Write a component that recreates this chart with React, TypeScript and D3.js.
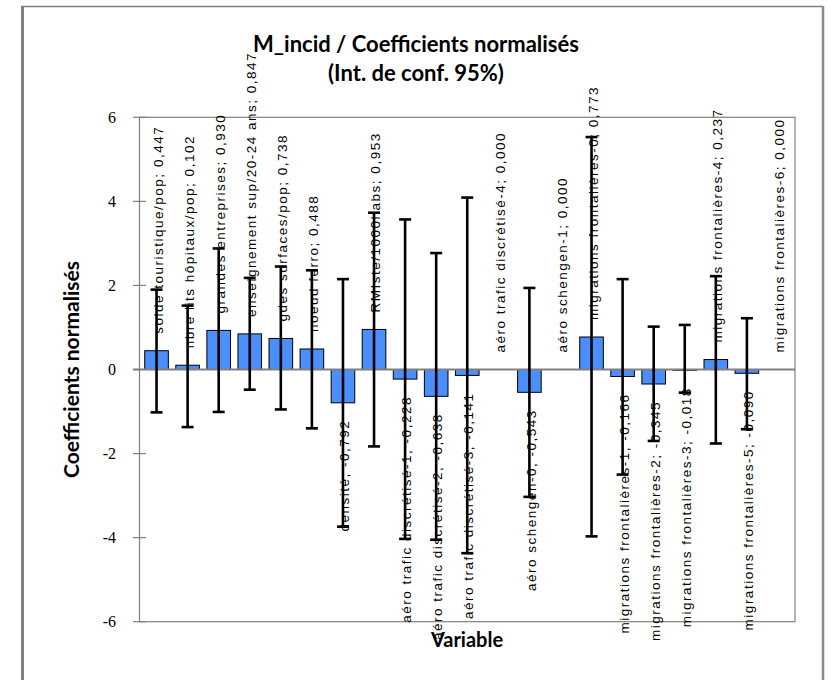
import React from "react";
import * as d3 from "d3";

const categories = [
  "solde touristique/pop",
  "nbre lits hôpitaux/pop",
  "grandes entreprises",
  "enseignement sup/20-24 ans",
  "gdes surfaces/pop",
  "noeud ferro",
  "densité",
  "RMIste/1000habs",
  "aéro trafic discrétisé-1",
  "aéro trafic discrétisé-2",
  "aéro trafic discrétisé-3",
  "aéro trafic discrétisé-4",
  "aéro schengen-0",
  "aéro schengen-1",
  "migrations frontalières-0",
  "migrations frontalières-1",
  "migrations frontalières-2",
  "migrations frontalières-3",
  "migrations frontalières-4",
  "migrations frontalières-5",
  "migrations frontalières-6",
];

const values = [0.447, 0.102, 0.93, 0.847, 0.738, 0.488, -0.792, 0.953, -0.228, -0.638, -0.141, 0.0, -0.543, 0.0, 0.773, -0.166, -0.345, -0.018, 0.237, -0.09, 0.0];
const upperBounds = [1.9, 1.52, 2.88, 2.18, 2.45, 2.36, 2.15, 3.73, 3.57, 2.77, 4.09, null, 1.94, null, 5.53, 2.15, 1.02, 1.06, 2.22, 1.22, null];
const lowerBounds = [-1.02, -1.37, -1.01, -0.48, -0.95, -1.4, -3.74, -1.83, -4.03, -4.05, -4.37, null, -3.03, null, -3.97, -2.5, -1.7, -0.55, -1.76, -1.42, null];
const yTicks = [-6, -4, -2, 0, 2, 4, 6];

const titleLines = ["M_incid / Coefficients normalisés", "(Int. de conf. 95%)"];
const yTitle = "Coefficients normalisés";
const xTitle = "Variable";

export default function App() {
  const W = 830, H = 680;
  const left = 139.5, right = 795, top = 117.3, bottom = 621.7;
  const x = d3.scaleBand<number>().domain(d3.range(categories.length)).range([left + 1.5, right - 1.5]).paddingInner(0.24).paddingOuter(0.12);
  const y = d3.scaleLinear().domain([-6, 6]).range([bottom, top]);
  const fmt = (v: number) => v.toFixed(3).replace(".", ",");
  const bw = x.bandwidth();
  const labelFont = "'Liberation Sans', Arial, sans-serif";
  const boldFont = "Lato, 'Open Sans', sans-serif";
  return (
    <svg width={W} height={H} style={{ position: "absolute", left: 0, top: 0, background: "#fff" }}>
      {/* outer frame */}
      <line x1={22.5} y1={6} x2={22.5} y2={H} stroke="#808080" strokeWidth={3} />
      <line x1={21} y1={6.5} x2={823} y2={6.5} stroke="#808080" strokeWidth={1.5} />
      <line x1={823} y1={6} x2={823} y2={H} stroke="#8a8a8a" strokeWidth={2.5} />

      {/* title */}
      {titleLines.map((t, i) => (
        <text key={i} x={416} y={52 + i * 29} textAnchor="middle" fontFamily={boldFont} fontWeight="bold" fontSize={22} fill="#000">
          {t}
        </text>
      ))}

      {/* plot border */}
      <rect x={left} y={top} width={right - left} height={bottom - top} fill="none" stroke="#808080" strokeWidth={1.2} />

      {/* y ticks */}
      {yTicks.map((t) => (
        <g key={t}>
          <line x1={133} x2={146} y1={y(t)} y2={y(t)} stroke="#808080" strokeWidth={1.2} />
          <text x={116} y={y(t)} dy="0.35em" textAnchor="end" fontFamily="'Liberation Serif', 'Times New Roman', serif" fontSize={16} fill="#000">
            {t}
          </text>
        </g>
      ))}

      {/* bars */}
      {values.map((v, i) => {
        const y0 = y(0), y1 = y(v);
        if (v === 0) return null;
        return (
          <rect key={"b" + i} x={x(i)} y={Math.min(y0, y1)} width={bw} height={Math.abs(y1 - y0)} fill="#4b8ffd" stroke="#000" strokeWidth={1} />
        );
      })}

      {/* zero line */}
      <line x1={133} x2={right} y1={y(0)} y2={y(0)} stroke="#808080" strokeWidth={2} />

      {/* error bars */}
      {values.map((v, i) => {
        const up = upperBounds[i], lo = lowerBounds[i];
        if (up === null || lo === null) return null;
        const cx = (x(i) as number) + bw / 2;
        return (
          <g key={"e" + i} stroke="#000" strokeWidth={2.6}>
            <line x1={cx} x2={cx} y1={y(up)} y2={y(lo)} />
            <line x1={cx - 6} x2={cx + 6} y1={y(up)} y2={y(up)} />
            <line x1={cx - 6} x2={cx + 6} y1={y(lo)} y2={y(lo)} />
          </g>
        );
      })}

      {/* data labels */}
      {values.map((v, i) => {
        const cx = (x(i) as number) + bw / 2 + 1.5;
        const pos = v >= 0;
        const yy = pos ? y(v) - 17 : y(v) + 17;
        return (
          <text
            key={"l" + i}
            transform={`translate(${cx},${yy}) rotate(-90)`}
            textAnchor={pos ? "start" : "end"}
            dy="0.35em"
            fontFamily={labelFont}
            fontSize={13.5}
            letterSpacing={1.5}
            fill="#000"
          >
            {`${categories[i]}; ${fmt(v)}`}
          </text>
        );
      })}

      {/* axis titles */}
      <text transform={`translate(79,${y(0)}) rotate(-90)`} textAnchor="middle" fontFamily={boldFont} fontWeight="bold" fontSize={21} fill="#000">
        {yTitle}
      </text>
      <text x={467} y={647} textAnchor="middle" fontFamily={boldFont} fontWeight="bold" fontSize={20} fill="#000">
        {xTitle}
      </text>
    </svg>
  );
}
